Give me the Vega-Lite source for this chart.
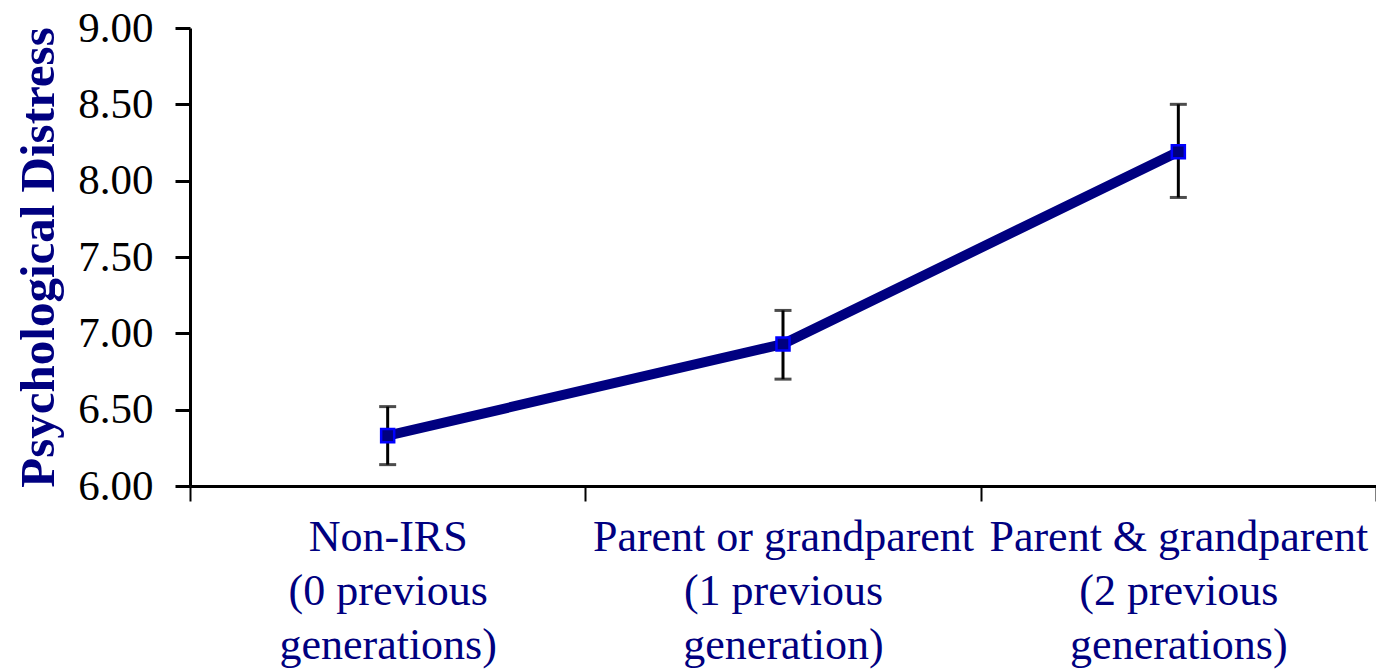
{
  "$schema": "https://vega.github.io/schema/vega-lite/v6.json",
  "autosize": {"type": "none"},
  "padding": {"left": 190, "top": 28, "right": 0, "bottom": 185},
  "width": 1186,
  "height": 458,
  "background": "white",
  "config": {
    "view": {"stroke": null},
    "font": "Liberation Serif"
  },
  "data": {
    "values": [
      {"group": "\u2002\u2002\u2002\u2002Non-IRS|(0 previous|generations)", "order": 0, "mean": 6.33, "low": 6.14, "high": 6.52},
      {"group": "Parent or grandparent|(1 previous|generation)", "order": 1, "mean": 6.93, "low": 6.70, "high": 7.15},
      {"group": "Parent & grandparent|(2 previous|generations)", "order": 2, "mean": 8.19, "low": 7.89, "high": 8.50}
    ]
  },
  "encoding": {
    "x": {
      "field": "group",
      "type": "nominal",
      "sort": null,
      "scale": {"paddingInner": 0, "paddingOuter": 0},
      "axis": {
        "title": null,
        "labelAngle": 0,
        "labelExpr": "split(datum.label, '|')",
        "labelFont": "Liberation Serif",
        "labelFontSize": 44,
        "labelLineHeight": 54,
        "labelColor": "#000080",
        "labelPadding": 14,
        "labelBaseline": "top",
        "labelLimit": 0,
        "labelOverlap": false,
        "tickBand": "extent",
        "tickColor": "black",
        "tickWidth": 2,
        "tickSize": 15,
        "domainColor": "black",
        "domainWidth": 3,
        "grid": false
      }
    }
  },
  "layer": [
    {
      "mark": {"type": "rule", "color": "black", "strokeWidth": 3},
      "encoding": {
        "y": {"field": "low", "type": "quantitative"},
        "y2": {"field": "high"}
      }
    },
    {
      "mark": {"type": "tick", "color": "black", "thickness": 3, "size": 17},
      "encoding": {"y": {"field": "low", "type": "quantitative"}}
    },
    {
      "mark": {"type": "tick", "color": "black", "thickness": 3, "size": 17},
      "encoding": {"y": {"field": "high", "type": "quantitative"}}
    },
    {
      "mark": {"type": "line", "color": "#000080", "strokeWidth": 10},
      "encoding": {
        "y": {
          "field": "mean",
          "type": "quantitative",
          "scale": {"domain": [6, 9], "nice": false, "zero": false},
          "axis": {
            "title": "Psychological Distress",
            "titleFont": "Liberation Serif",
            "titleFontSize": 49,
            "titleFontWeight": "bold",
            "titleColor": "#000080",
            "titlePadding": 14,
            "values": [6, 6.5, 7, 7.5, 8, 8.5, 9],
            "format": ".2f",
            "labelFont": "Liberation Serif",
            "labelFontSize": 43,
            "labelColor": "black",
            "labelPadding": 22,
            "tickColor": "black",
            "tickWidth": 3,
            "tickSize": 15,
            "domainColor": "black",
            "domainWidth": 3,
            "grid": false
          }
        },
        "order": {"field": "order"}
      }
    },
    {
      "mark": {"type": "point", "shape": "square", "filled": false, "fill": "#000080", "fillOpacity": 1, "stroke": "#0000FF", "strokeWidth": 2.5, "size": 170, "opacity": 1},
      "encoding": {"y": {"field": "mean", "type": "quantitative"}}
    }
  ]
}
